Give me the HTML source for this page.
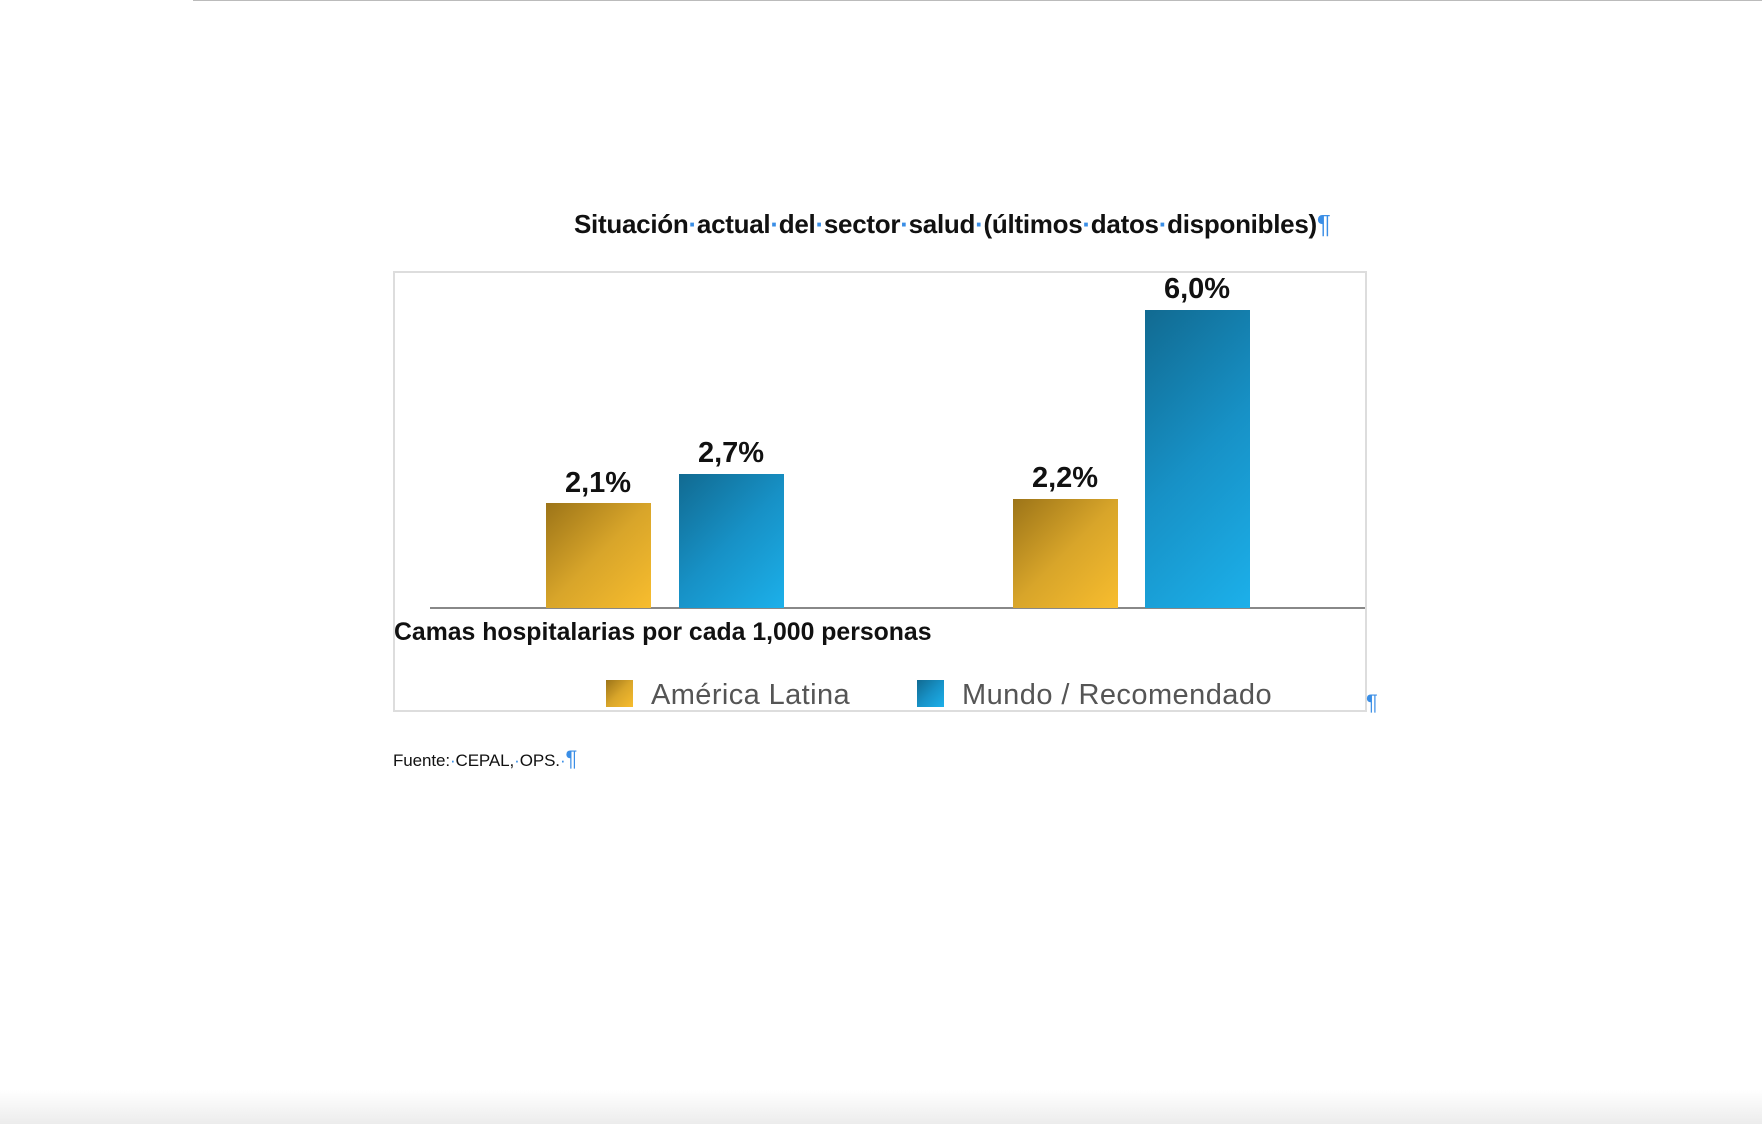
<!DOCTYPE html>
<html><head><meta charset="utf-8"><style>
body{margin:0;width:1762px;height:1124px;background:#fff;position:relative;overflow:hidden;font-family:"Liberation Sans",sans-serif}
.a{position:absolute;white-space:nowrap}
.d{color:#3a8ee6}
.bar{position:absolute}
.g{background:linear-gradient(135deg,#9c7418 0%,#d8a52a 50%,#f8bd2e 100%)}
.b{background:linear-gradient(135deg,#116a91 0%,#1791c6 50%,#1cb0ea 100%)}
.lbl{position:absolute;font-weight:bold;font-size:29px;color:#111;text-align:center;width:140px}
</style></head><body>
<div class="a" style="left:193px;top:0;width:1569px;height:1px;background:#bbb"></div>
<div class="a" style="left:0;top:1090px;width:1762px;height:34px;background:linear-gradient(#fff,#ececec)"></div>
<div class="a" style="left:574px;top:209px;font-size:26px;font-weight:bold;color:#111;letter-spacing:-0.28px">Situación<span class="d">·</span>actual<span class="d">·</span>del<span class="d">·</span>sector<span class="d">·</span>salud<span class="d">·</span>(últimos<span class="d">·</span>datos<span class="d">·</span>disponibles)<span class="d" style="font-weight:normal">¶</span></div>
<div class="a" style="left:393px;top:271px;width:970px;height:437px;border:2px solid #ddd"></div>
<div class="a" style="left:430px;top:607px;width:935px;height:2px;background:#888"></div>
<div class="bar g" style="left:546px;top:503px;width:105px;height:105px"></div>
<div class="bar b" style="left:679px;top:474px;width:105px;height:134px"></div>
<div class="bar g" style="left:1013px;top:499px;width:105px;height:109px"></div>
<div class="bar b" style="left:1145px;top:310px;width:105px;height:298px"></div>
<div class="lbl" style="left:528px;top:467px">2,1%</div>
<div class="lbl" style="left:661px;top:437px">2,7%</div>
<div class="lbl" style="left:995px;top:462px">2,2%</div>
<div class="lbl" style="left:1127px;top:273px">6,0%</div>
<div class="a" style="left:394px;top:619px;font-size:24.8px;font-weight:bold;color:#111">Camas hospitalarias por cada 1,000 personas</div>
<div class="a g" style="left:606px;top:680px;width:27px;height:27px"></div>
<div class="a" style="left:651px;top:679px;font-size:29px;color:#555;letter-spacing:0.4px">América Latina</div>
<div class="a b" style="left:917px;top:680px;width:27px;height:27px"></div>
<div class="a" style="left:962px;top:679px;font-size:29px;color:#555;letter-spacing:0.45px">Mundo / Recomendado</div>
<div class="a d" style="left:1366px;top:690px;font-size:22px">¶</div>
<div class="a" style="left:393px;top:746px;font-size:17px;color:#111;letter-spacing:-0.1px">Fuente:<span class="d">·</span>CEPAL,<span class="d">·</span>OPS.<span class="d">·</span><span class="d" style="font-size:22px">¶</span></div>
</body></html>
